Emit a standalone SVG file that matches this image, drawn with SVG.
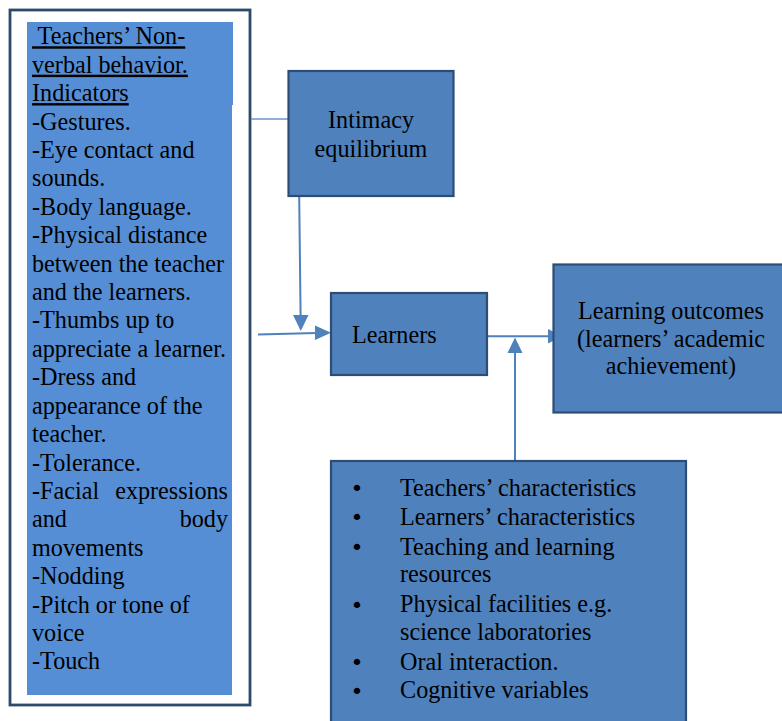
<svg xmlns="http://www.w3.org/2000/svg" width="782" height="721" viewBox="0 0 782 721">
  <style>
    text { font-family: "Liberation Serif", "Times New Roman", serif; font-size: 24.2px; fill: #000; }
    .bullet { font-family: "DejaVu Sans", sans-serif; font-size: 22px; }
    .box { fill: #4f81bd; stroke: #2e4d75; stroke-width: 2.2; }
    .link { fill: none; stroke: #4f81bd; stroke-width: 2; }
    .thin { fill: none; stroke: #6f95c6; stroke-width: 1.4; }
    .head { fill: #4f81bd; }
    .u { text-decoration: underline; }
  </style>
  <rect width="782" height="721" fill="#ffffff"/>

  <!-- Connectors (drawn first so box borders sit on top) -->
  <g id="connectors">
    <!-- indicators panel to intimacy equilibrium -->
    <line class="thin" x1="251.5" y1="119" x2="288" y2="119"/>
    <!-- intimacy equilibrium down to learners -->
    <line class="link" x1="299.2" y1="197" x2="300.6" y2="316"/>
    <polygon class="head" points="293,315 308.5,315 300.8,331"/>
    <!-- indicators panel to learners -->
    <line class="link" x1="258" y1="334.5" x2="316" y2="333"/>
    <polygon class="head" points="315,325.5 331,332.8 315,340"/>
    <!-- learners to learning outcomes -->
    <line class="link" x1="487" y1="336.3" x2="550" y2="336.3"/>
    <polygon class="head" points="548,329 562,336.3 548,343.5"/>
    <!-- other factors up to the learners link -->
    <line class="link" x1="515" y1="460" x2="515" y2="352"/>
    <polygon class="head" points="507.5,353 522.5,353 515,337.5"/>
  </g>

  <!-- Indicators panel -->
  <g id="indicators">
    <rect x="10" y="10" width="240" height="695" fill="#ffffff" stroke="#2e4a6b" stroke-width="2.8"/>
    <rect x="27" y="22" width="205" height="673" fill="#558ed5"/>
    <rect x="231" y="22" width="2" height="83" fill="#558ed5"/>
    <text x="32" y="44.3" class="u" xml:space="preserve"> Teachers’ Non-</text>
    <text x="32" y="72.7" class="u">verbal behavior.</text>
    <text x="32" y="101.1" class="u">Indicators</text>
    <text x="32" y="129.5">-Gestures.</text>
    <text x="32" y="158">-Eye contact and</text>
    <text x="32" y="186.4">sounds.</text>
    <text x="32" y="214.8">-Body language.</text>
    <text x="32" y="243.2">-Physical distance</text>
    <text x="32" y="271.6">between the teacher</text>
    <text x="32" y="300">and the learners.</text>
    <text x="32" y="328.4">-Thumbs up to</text>
    <text x="32" y="356.8">appreciate a learner.</text>
    <text x="32" y="385.2">-Dress and</text>
    <text x="32" y="413.6">appearance of the</text>
    <text x="32" y="442">teacher.</text>
    <text x="32" y="470.5">-Tolerance.</text>
    <text x="32" y="498.9">-Facial</text>
    <text x="228" y="498.9" text-anchor="end">expressions</text>
    <text x="32" y="527.3">and</text>
    <text x="228" y="527.3" text-anchor="end">body</text>
    <text x="32" y="555.7">movements</text>
    <text x="32" y="584.1">-Nodding</text>
    <text x="32" y="612.5">-Pitch or tone of</text>
    <text x="32" y="640.9">voice</text>
    <text x="32" y="669.3">-Touch</text>
  </g>

  <!-- Intimacy equilibrium -->
  <g id="intimacy">
    <rect class="box" x="288.5" y="71" width="165" height="125"/>
    <text x="371" y="128.3" text-anchor="middle">Intimacy</text>
    <text x="371" y="156.7" text-anchor="middle">equilibrium</text>
  </g>

  <!-- Learners -->
  <g id="learners">
    <rect class="box" x="331" y="293" width="156" height="82"/>
    <text x="352" y="343">Learners</text>
  </g>

  <!-- Learning outcomes -->
  <g id="outcomes">
    <rect class="box" x="553.5" y="264.5" width="240" height="148"/>
    <text x="671" y="318.5" text-anchor="middle">Learning outcomes</text>
    <text x="671" y="346.5" text-anchor="middle">(learners’ academic</text>
    <text x="671" y="374" text-anchor="middle">achievement)</text>
  </g>

  <!-- Other factors -->
  <g id="factors">
    <rect class="box" x="331" y="461" width="355" height="280"/>
    <text class="bullet" x="357" y="496" text-anchor="middle">•</text>
    <text x="400" y="495.5">Teachers’ characteristics</text>
    <text class="bullet" x="357" y="525" text-anchor="middle">•</text>
    <text x="400" y="524.5">Learners’ characteristics</text>
    <text class="bullet" x="357" y="555" text-anchor="middle">•</text>
    <text x="400" y="554.5">Teaching and learning</text>
    <text x="400" y="582">resources</text>
    <text class="bullet" x="357" y="612.5" text-anchor="middle">•</text>
    <text x="400" y="612">Physical facilities e.g.</text>
    <text x="400" y="639.5">science laboratories</text>
    <text class="bullet" x="357" y="670" text-anchor="middle">•</text>
    <text x="400" y="669.5">Oral interaction.</text>
    <text class="bullet" x="357" y="698.5" text-anchor="middle">•</text>
    <text x="400" y="698">Cognitive variables</text>
  </g>
</svg>
